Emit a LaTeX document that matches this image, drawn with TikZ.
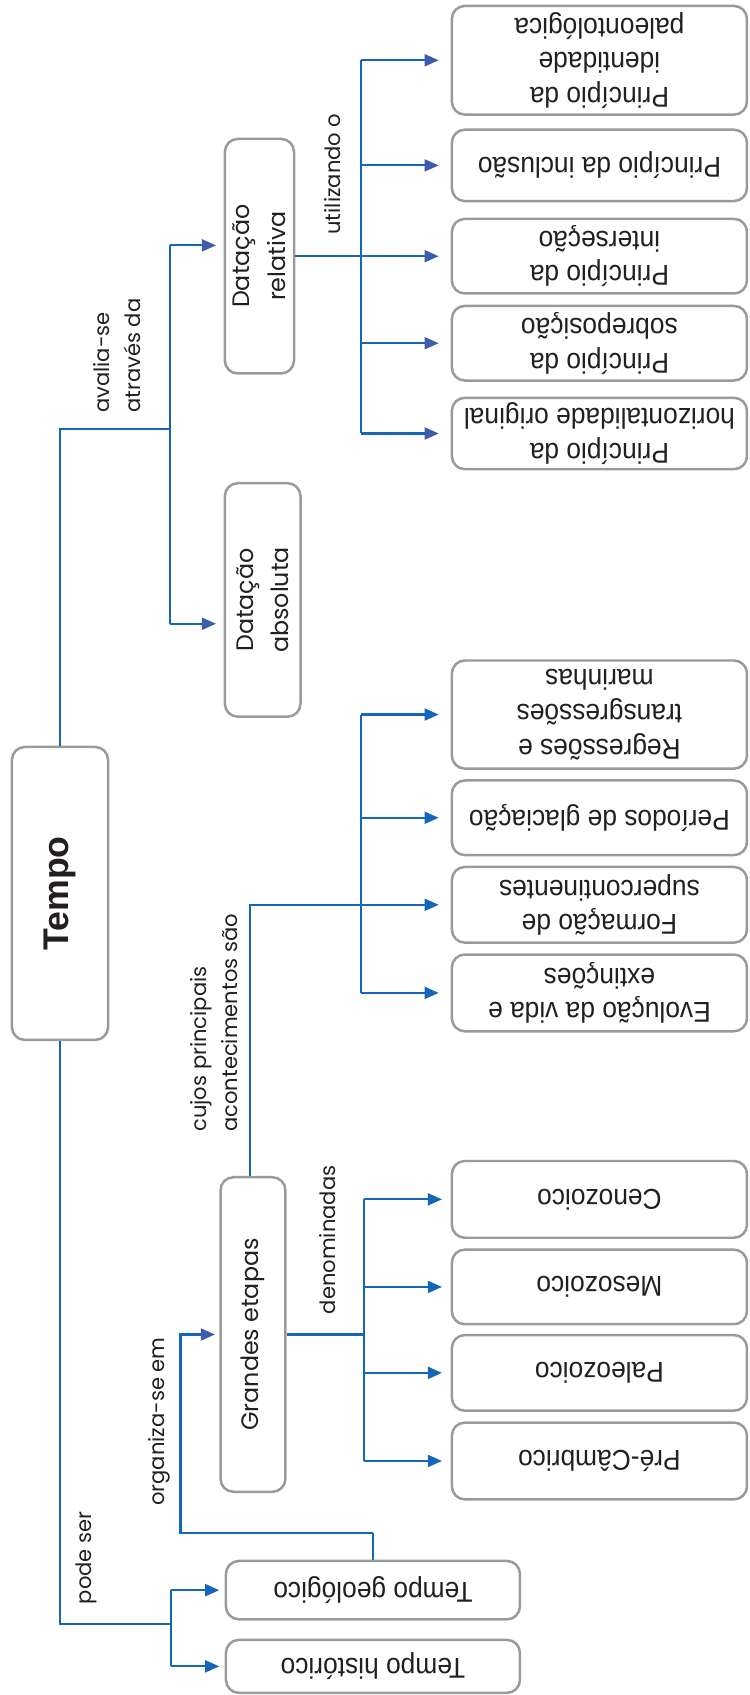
\documentclass[tikz,border=0pt]{standalone}
\usepackage{fontspec}
\setmainfont{Liberation Sans}
\newfontfamily\leaffont[FakeStretch=0.92]{Liberation Sans}
\newfontfamily\geo{Poppins}
\usetikzlibrary{arrows.meta}
\definecolor{lnblue}{RGB}{20,102,184}
\definecolor{headc}{RGB}{62,92,170}
\definecolor{boxgray}{RGB}{155,153,153}
\definecolor{txt}{RGB}{35,31,32}
\tikzset{
  leaf/.style={draw=boxgray, line width=2.3pt, rounded corners=12pt, rotate=180,
    minimum width=273pt, align=center, inner sep=0pt, text=txt,
    font=\leaffont\fontsize{26.5}{32}\selectfont},
  vbox/.style={draw=boxgray, line width=2.3pt, rounded corners=12pt, rotate=90,
    align=center, inner sep=0pt, text=txt, font=\geo\fontsize{22}{33}\selectfont},
  lbl/.style={rotate=90, align=left, inner sep=0pt, text=txt,
    font=\geo\fontsize{19.5}{29}\selectfont},
  ln/.style={draw=lnblue, line width=2pt},
  arr/.style={ln, -{Triangle[length=13pt,width=11pt,color=lnblue]}},
  arri/.style={ln, -{Triangle[length=13pt,width=11pt,color=headc]}},
}
\begin{document}
\begin{tikzpicture}[x=1pt,y=-1pt]
\useasboundingbox (0,0) rectangle (693,1568);
% main
\node[vbox, minimum width=271pt, minimum height=89pt, font=\bfseries\fontsize{33}{38}\selectfont] (tempo) at (55.5,826.5) {Tempo};
\node[vbox, minimum width=217pt, minimum height=64pt] (rel) at (240,237) {Datação\\relativa};
\node[vbox, minimum width=216pt, minimum height=70pt] (abs) at (243,555) {Datação\\absoluta};
\node[vbox, minimum width=291pt, minimum height=60pt] (ge) at (234,1234.5) {Grandes etapas};
\node[leaf, minimum width=272pt, minimum height=54pt] (geo) at (345,1471) {Tempo geológico};
\node[leaf, minimum width=272pt, minimum height=49pt] (hist) at (345,1541.5) {Tempo histórico};
% leaves
\node[leaf, minimum height=100.5pt] (L1) at (554.5,55.75) {Princípio da\\identidade\\paleontológica};
\node[leaf, minimum height=66pt] (L2) at (554.5,153) {Princípio da inclusão};
\node[leaf, minimum height=69pt] (L3) at (554.5,237) {Princípio da\\interseção};
\node[leaf, minimum height=69pt] (L4) at (554.5,317.5) {Princípio da\\sobreposição};
\node[leaf, minimum height=66pt] (L5) at (554.5,401) {Princípio da\\horizontalidade original};
\node[leaf, minimum height=100pt] (L6) at (554.5,661) {Regressões e\\transgressões\\marinhas};
\node[leaf, minimum height=69pt] (L7) at (554.5,756.5) {Períodos de glaciação};
\node[leaf, minimum height=70pt] (L8) at (554.5,837) {Formação de\\supercontinentes};
\node[leaf, minimum height=71pt] (L9) at (554.5,918.5) {Evolução da vida e\\extinções};
\node[leaf, minimum height=71pt] (L10) at (554.5,1109.5) {Cenozoico};
\node[leaf, minimum height=69pt] (L11) at (554.5,1190.5) {Mesozoico};
\node[leaf, minimum height=70pt] (L12) at (554.5,1270) {Paleozoico};
\node[leaf, minimum height=71pt] (L13) at (554.5,1351.5) {Pré-Câmbrico};
% labels
\node[lbl, anchor=west] (l1) at (108,382) {avalia-se\\através da};
\node[lbl] (l2) at (308,161) {utilizando o};
\node[lbl, anchor=west] (l3) at (198,1047) {cujos principais\\acontecimentos são};
\node[lbl] (l4) at (303,1147) {denominadas};
\node[lbl] (l5) at (147,1315) {organiza-se em};
\node[lbl] (l6) at (80,1441) {pode ser};
% coordinates
\coordinate (j1) at (157,397);
\coordinate (ra) at (157,227);
\coordinate (aa) at (157,577);
\coordinate (bR) at (334,237);
\coordinate (bM) at (334,661);
\coordinate (c2) at (231,837);
\coordinate (bD) at (337,1234.5);
\coordinate (j2) at (158,1502);
\coordinate (c1) at (167,1418);
% top trunk
\draw[ln] (tempo.east) |- (j1);
\draw[ln] (ra) -- (aa);
\draw[arri, shorten >=7pt] (ra) -- (rel.north |- ra);
\draw[arri, shorten >=7pt] (aa) -- (abs.north |- aa);
% relative dating
\draw[ln] (rel.south) -- (bR);
\draw[ln] (bR |- L1.east) -- (bR |- L5.east);
\foreach \n in {L1,L2,L3,L4,L5}
  \draw[arri, shorten >=11pt] (bR |- \n.east) -- (\n.east);
% events
\draw[ln] (bM |- L6.east) -- (bM |- L9.east);
\foreach \n in {L6,L7,L9}
  \draw[arr, shorten >=11pt] (bM |- \n.east) -- (\n.east);
\draw[arr, shorten >=11pt] (c2 |- ge.east) |- (L8.east);
% eras
\draw[ln] (ge.south) -- (bD);
\draw[ln] (bD |- L10.east) -- (bD |- L13.east);
\foreach \n in {L10,L11,L12,L13}
  \draw[arr, shorten >=8pt] (bD |- \n.east) -- (\n.east);
% bottom trunk
\draw[ln] (tempo.west) |- (j2);
\draw[ln] (j2 |- geo.east) -- (j2 |- hist.east);
\draw[arr, shorten >=5pt] (j2 |- geo.east) -- (geo.east);
\draw[arr, shorten >=5pt] (j2 |- hist.east) -- (hist.east);
% organiza-se em
\draw[arri, shorten >=4pt] (c1 -| geo.south) -- (c1) |- (ge.north);
\draw[ln] (geo.south) -- (c1 -| geo.south);
\end{tikzpicture}
\end{document}
